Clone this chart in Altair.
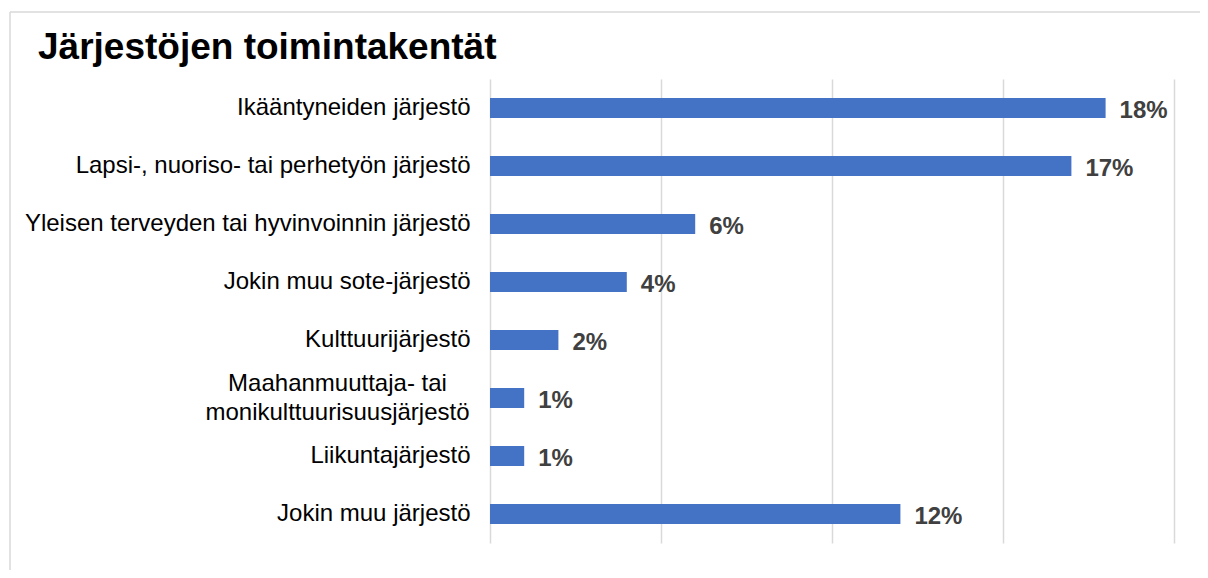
import altair as alt
import pandas as pd

categories = [
    "Ikääntyneiden järjestö",
    "Lapsi-, nuoriso- tai perhetyön järjestö",
    "Yleisen terveyden tai hyvinvoinnin järjestö",
    "Jokin muu sote-järjestö",
    "Kulttuurijärjestö",
    "Maahanmuuttaja- tai\nmonikulttuurisuusjärjestö",
    "Liikuntajärjestö",
    "Jokin muu järjestö",
]
values = [18, 17, 6, 4, 2, 1, 1, 12]
value_labels = ["18%", "17%", "6%", "4%", "2%", "1%", "1%", "12%"]
x_ticks = [0, 5, 10, 15, 20]
title_text = "Järjestöjen toimintakentät"

df = pd.DataFrame({"category": categories, "value": values, "label": value_labels})
FONT = "Liberation Sans"

multi = "indexof(datum.value, '\\n') >= 0"
label_expr = f"{multi} ? split(datum.value, '\\n') : datum.value"

base = alt.Chart(df).encode(
    y=alt.Y(
        "category:N",
        sort=categories,
        scale=alt.Scale(paddingInner=0.655, paddingOuter=0.3275),
        axis=alt.Axis(
            title=None, domain=False, ticks=False, labelFontSize=24, labelColor="#000000",
            labelFont=FONT, labelLimit=0, labelExpr=label_expr, labelLineHeight=29,
            labelPadding={"condition": {"test": multi, "value": 153}, "value": 20},
            labelAlign={"condition": {"test": multi, "value": "center"}, "value": "right"},
            labelOffset={"condition": {"test": multi, "value": -14}, "value": 0},
        ),
    ),
    x=alt.X(
        "value:Q",
        scale=alt.Scale(domain=[0, 20], nice=False),
        axis=alt.Axis(
            title=None, values=x_ticks, labels=False, ticks=False, domain=False,
            grid=True, gridColor="#d9d9d9", gridWidth=1.5,
        ),
    ),
)

bars = base.mark_bar(color="#4472C4")
text = base.mark_text(
    align="left", baseline="middle", dx=14, dy=3, fontSize=24, fontWeight="bold",
    color="#404040", font=FONT,
).encode(text="label:N")

frame_df = pd.DataFrame({"k": [0]})
left_border = alt.Chart(frame_df).mark_rule(color="#d9d9d9", strokeWidth=1.5).encode(
    x=alt.value(-480), y=alt.value(-67), y2=alt.value(495)
)
top_border = alt.Chart(frame_df).mark_rule(color="#d9d9d9", strokeWidth=1.5).encode(
    x=alt.value(-480), x2=alt.value(710), y=alt.value(-67)
)

chart = alt.layer(bars, text, left_border, top_border).properties(
    width=684,
    height=464,
    background="white",
    autosize=alt.AutoSizeParams(type="none"),
    padding={"left": 482, "top": 71, "right": 26, "bottom": 27},
    title=alt.TitleParams(
        title_text, anchor="start", frame="group", dx=-452, fontSize=37, font=FONT,
        fontWeight="bold", color="#000000", baseline="alphabetic", offset=-85,
    ),
).configure_view(strokeWidth=0)

chart.save("out.html", embed_options={"renderer": "svg", "actions": False})
